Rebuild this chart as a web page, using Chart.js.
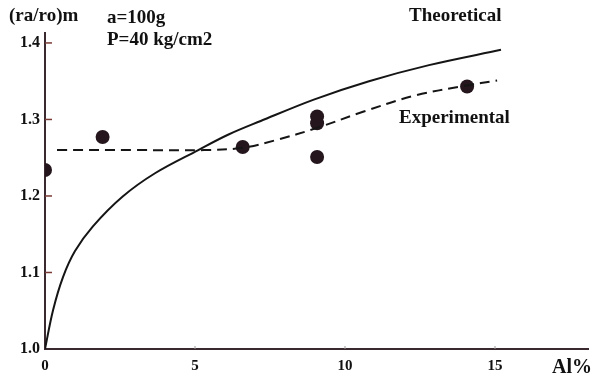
<!DOCTYPE html>
<html>
<head>
<meta charset="utf-8">
<script src="https://cdn.jsdelivr.net/npm/chart.js@4"></script>
<style>
  html, body { margin: 0; padding: 0; background: #fff; }
  #wrap { width: 595px; height: 376px; position: relative; }
</style>
</head>
<body>
<div id="wrap"><canvas id="c" width="595" height="376"></canvas></div>
<script>
// ---- data ----
const xTicks = [0, 5, 10, 15];
const yTicks = [1.0, 1.1, 1.2, 1.3, 1.4];

const theoX = [0, 0.27, 0.6, 1.0, 1.59, 2.58, 3.68, 5.11, 6.1, 7.19, 8.96, 10.8, 12.8, 15.2];
const theoY = [1.0, 1.051, 1.094, 1.128, 1.160, 1.199, 1.230, 1.260, 1.280, 1.298, 1.326, 1.350, 1.371, 1.391];

const expX = [0.4, 3.0, 5.3, 6.6, 7.7, 9.07, 10.6, 12.3, 14.0, 15.07];
const expY = [1.260, 1.260, 1.260, 1.263, 1.273, 1.289, 1.310, 1.331, 1.344, 1.351];

const measX = [0, 1.92, 6.59, 9.07, 9.07, 9.07, 14.07];
const measY = [1.234, 1.277, 1.264, 1.304, 1.295, 1.251, 1.343];

const labels = {
  yTitle: '(ra/ro)m',
  xTitle: 'Al%',
  note1: 'a=100g',
  note2: 'P=40 kg/cm2',
  theo: 'Theoretical',
  exp: 'Experimental'
};

const zip = (xs, ys) => xs.map((x, i) => ({ x: x, y: ys[i] }));
const SERIF = '"Liberation Serif", "DejaVu Serif", serif';

const decor = {
  id: 'decor',
  afterDraw(chart) {
    const ctx = chart.ctx;
    const xs = chart.scales.x, ys = chart.scales.y;
    ctx.save();
    // inward tick marks on y axis
    ctx.strokeStyle = '#7a3b35';
    ctx.lineWidth = 1.5;
    yTicks.forEach(v => {
      if (v === 1.0) return;
      const py = ys.getPixelForValue(v);
      ctx.beginPath();
      ctx.moveTo(xs.left, py);
      ctx.lineTo(xs.left + 7, py);
      ctx.stroke();
    });
    // tiny x tick marks
    ctx.strokeStyle = '#999';
    ctx.lineWidth = 1;
    xTicks.forEach(v => {
      if (v === 0) return;
      const px = xs.getPixelForValue(v);
      ctx.beginPath();
      ctx.moveTo(px, ys.bottom - 3);
      ctx.lineTo(px, ys.bottom);
      ctx.stroke();
    });
    // texts
    ctx.fillStyle = '#111';
    ctx.textBaseline = 'middle';
    ctx.textAlign = 'left';
    ctx.font = 'bold 19px ' + SERIF;
    ctx.fillText(labels.yTitle, 9, 16);
    ctx.fillText(labels.note1, 107, 18);
    ctx.fillText(labels.note2, 107, 40);
    ctx.fillText(labels.theo, 409, 16);
    ctx.fillText(labels.exp, 399, 118);
    ctx.font = 'bold 20px ' + SERIF;
    ctx.fillText(labels.xTitle, 552, 368);
    ctx.restore();
  }
};

new Chart(document.getElementById('c'), {
  type: 'line',
  data: {
    datasets: [
      {
        label: labels.theo,
        data: zip(theoX, theoY),
        borderColor: '#151515',
        borderWidth: 2,
        pointRadius: 0,
        tension: 0.35,
        fill: false
      },
      {
        label: labels.exp,
        data: zip(expX, expY),
        borderColor: '#151515',
        borderWidth: 2,
        borderDash: [10, 6],
        pointRadius: 0,
        tension: 0.35,
        fill: false
      },
      {
        label: 'measured',
        data: zip(measX, measY),
        showLine: false,
        pointRadius: 7,
        pointBackgroundColor: '#24161c',
        pointBorderColor: '#24161c',
        pointBorderWidth: 0
      }
    ]
  },
  options: {
    responsive: false,
    animation: false,
    devicePixelRatio: 1,
    layout: { padding: { top: 33, right: 0, left: 0, bottom: 0 } },
    plugins: { legend: { display: false }, tooltip: { enabled: false } },
    scales: {
      x: {
        type: 'linear',
        min: 0,
        max: 18.1,
        afterBuildTicks(scale) { scale.ticks = xTicks.map(v => ({ value: v })); },
        afterFit(scale) { scale.height = 27; },
        grid: { display: true, drawOnChartArea: false, drawTicks: false },
        border: { display: true, color: '#3a2a30', width: 2 },
        ticks: {
          padding: 8,
          color: '#111',
          font: { family: SERIF, size: 15, weight: 'bold' },
          callback: v => String(v)
        }
      },
      y: {
        type: 'linear',
        min: 1.0,
        max: 1.413,
        afterBuildTicks(scale) { scale.ticks = yTicks.map(v => ({ value: v })); },
        afterFit(scale) { scale.width = 45; },
        grid: { display: true, drawOnChartArea: false, drawTicks: false },
        border: { display: true, color: '#3a2a30', width: 2 },
        ticks: {
          padding: 5,
          color: '#111',
          font: { family: SERIF, size: 16, weight: 'bold' },
          callback: v => v.toFixed(1)
        }
      }
    }
  },
  plugins: [decor]
});
</script>
</body>
</html>
